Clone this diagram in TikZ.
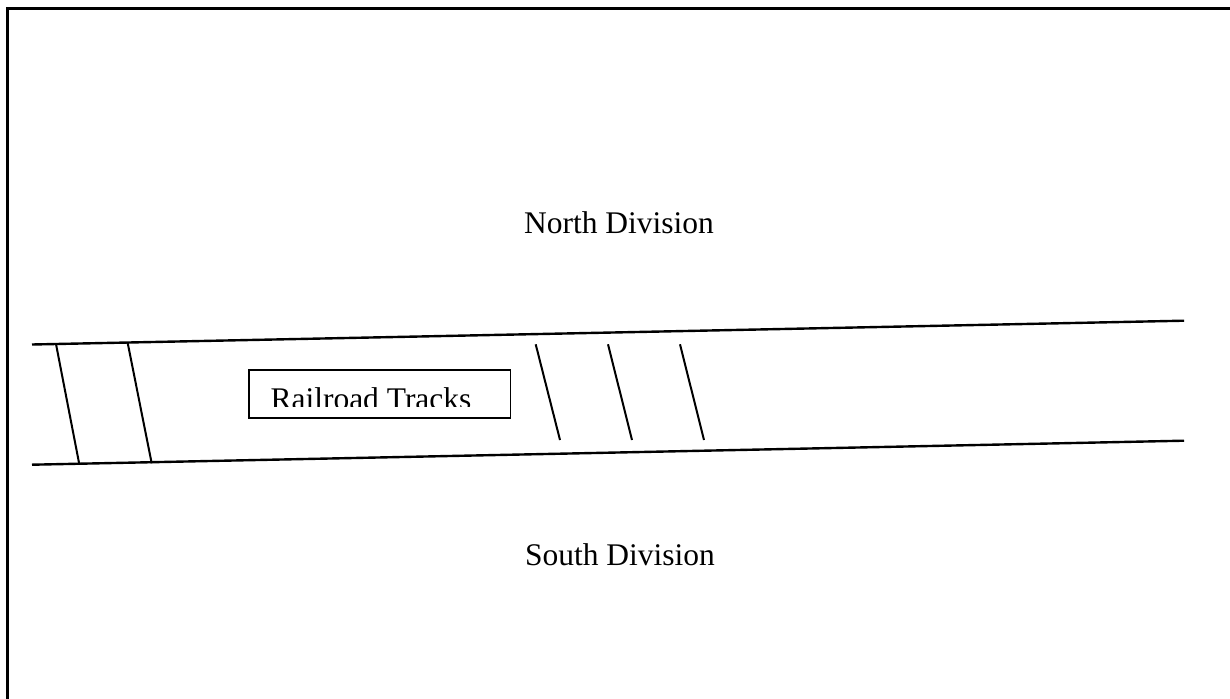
\documentclass[tikz,border=0pt]{standalone}
\usepackage{fontspec}
\setmainfont{Liberation Serif}
\tikzset{
  frameline/.style={line width=2.2pt, black},
  rail/.style={line width=2.4pt, black},
  tie/.style={line width=2pt, black},
  labelbox/.style={draw, line width=1.9pt, inner sep=0pt, anchor=north west},
  divtext/.style={inner sep=0pt, anchor=base, font=\fontsize{31.5}{36}\selectfont},
  boxtext/.style={inner sep=0pt, anchor=base west, font=\fontsize{31.5}{36}\selectfont}
}
\begin{document}
\begin{tikzpicture}[x=1pt, y=-1pt]
  \useasboundingbox (0,0) rectangle (1230,698);
  \fill[white] (0,0) rectangle (1230,698);
  % frame (top and left edges visible)
  \coordinate (fbl) at (7.5,700);
  \coordinate (ftl) at (7.5,8.5);
  \coordinate (ftr) at (1232,8.5);
  \draw[frameline] (fbl) -- (ftl) -- (ftr);
  % division labels
  \node[divtext] (north) at (619,233.3) {North Division};
  \node[divtext] (south) at (620,565) {South Division};
  % rails
  \coordinate (tl) at (32,344.5);
  \coordinate (tr) at (1184,320.7);
  \coordinate (bl) at (32,464.7);
  \coordinate (br) at (1184,440.7);
  \draw[rail] (tl) -- (tr);
  \draw[rail] (bl) -- (br);
  % ties
  \coordinate (t1a) at (56,344);    \coordinate (t1b) at (79.3,464.3);
  \coordinate (t2a) at (127.7,343); \coordinate (t2b) at (151.7,463.3);
  \coordinate (t3a) at (535.7,344.3); \coordinate (t3b) at (560,440);
  \coordinate (t4a) at (608,344.3);   \coordinate (t4b) at (632,440);
  \coordinate (t5a) at (680,344.3);   \coordinate (t5b) at (704,440);
  \draw[tie] (t1a) -- (t1b);
  \draw[tie] (t2a) -- (t2b);
  \draw[tie] (t3a) -- (t3b);
  \draw[tie] (t4a) -- (t4b);
  \draw[tie] (t5a) -- (t5b);
  % label box
  \node[labelbox, minimum width=261.2pt, minimum height=47.4pt] (box) at (248.3,369.3) {};
  \begin{scope}
    \clip (248.3,369.3) rectangle (509.5,406);
    \node[boxtext] (tracks) at (270.3,409.5) {Railroad Tracks};
  \end{scope}
\end{tikzpicture}
\end{document}
